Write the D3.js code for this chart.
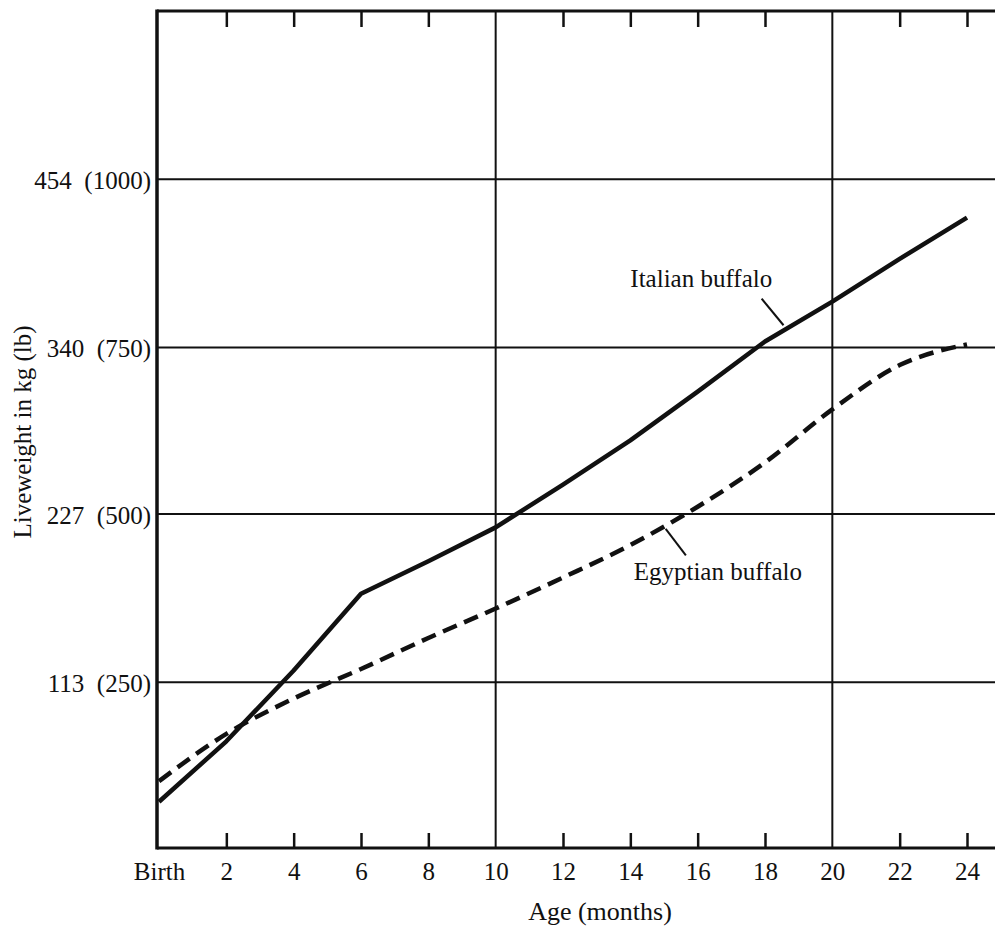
<!DOCTYPE html>
<html>
<head>
<meta charset="utf-8">
<script src="https://cdn.jsdelivr.net/npm/d3@7"></script>
<style>
  html, body { margin: 0; padding: 0; background: #fff; }
  svg { display: block; }
  text { font-family: "Liberation Serif", "Times New Roman", serif; fill: #111; }
</style>
</head>
<body>
<svg id="chart" width="995" height="932"></svg>
<script>
// ---- data ----
const months = [0, 2, 4, 6, 8, 10, 12, 14, 16, 18, 20, 22, 24];
const italianKg = [32, 73, 121, 173, 195, 218, 247, 277, 310, 344, 371, 400, 428];
const egyptianKg = [46, 78, 102, 122, 143, 163, 184, 206, 232, 262, 298, 328, 342];
const xTickValues = [0, 2, 4, 6, 8, 10, 12, 14, 16, 18, 20, 22, 24];
const xTickLabels = ["Birth", "2", "4", "6", "8", "10", "12", "14", "16", "18", "20", "22", "24"];
const xGridValues = [10, 20];
const yTickKg = [113, 227, 340, 454];
const yTickLb = [250, 500, 750, 1000];
const seriesNames = ["Italian buffalo", "Egyptian buffalo"];
// annotation anchors in data units: [labelMonth, labelKg, leaderFromMonth, leaderFromKg, leaderToMonth, leaderToKg]
const italianNote = [14.0, 381, 17.9, 373, 18.55, 355];
const egyptianNote = [14.1, 182, 15.05, 217, 15.65, 199];

(function () {
  // ---- layout ----
  const svg = d3.select("#chart");
  const pL = 157, pR = 995, pT = 11, pB = 848;

  const x = d3.scaleLinear().domain([0, 24]).range([159, 967]);
  const y = d3.scaleLinear().domain([0, 568]).range([849, 11]);

  const fs = 25;

  // horizontal grid lines
  svg.append("g").selectAll("line").data(yTickKg).join("line")
    .attr("x1", pL).attr("x2", pR)
    .attr("y1", d => y(d)).attr("y2", d => y(d))
    .attr("stroke", "#111").attr("stroke-width", 2);

  // vertical grid lines
  svg.append("g").selectAll("line").data(xGridValues).join("line")
    .attr("x1", d => x(d)).attr("x2", d => x(d))
    .attr("y1", pT).attr("y2", pB)
    .attr("stroke", "#111").attr("stroke-width", 2);

  // bottom axis (ticks pointing up)
  const xAxisB = d3.axisBottom(x)
    .tickValues(xTickValues)
    .tickFormat((d, i) => xTickLabels[i])
    .tickSize(-15).tickSizeOuter(0).tickPadding(14);
  const gB = svg.append("g").attr("transform", `translate(0,${pB})`).call(xAxisB);
  gB.select(".domain").remove();
  gB.selectAll(".tick line").attr("stroke", "#111").attr("stroke-width", 2.5)
    .filter(d => d === 0 || xGridValues.includes(d)).remove();
  gB.selectAll(".tick text").attr("font-size", fs).attr("font-family", "Liberation Serif")
    .attr("fill", "#111").attr("dy", "0.71em");

  // top axis (ticks pointing down)
  const xAxisT = d3.axisTop(x)
    .tickValues(xTickValues.filter(d => d !== 0 && !xGridValues.includes(d)))
    .tickFormat("").tickSize(-16).tickSizeOuter(0);
  const gT = svg.append("g").attr("transform", `translate(0,${pT})`).call(xAxisT);
  gT.select(".domain").remove();
  gT.selectAll(".tick line").attr("stroke", "#111").attr("stroke-width", 2.5);

  // left axis labels
  const yAxis = d3.axisLeft(y)
    .tickValues(yTickKg)
    .tickFormat((d, i) => `${d}  (${yTickLb[i]})`)
    .tickSize(0).tickPadding(6);
  const gL = svg.append("g").attr("transform", `translate(${pL},0)`).call(yAxis);
  gL.select(".domain").remove();
  gL.selectAll(".tick text").attr("font-size", fs).attr("font-family", "Liberation Serif")
    .attr("fill", "#111").attr("dy", "0.36em").style("white-space", "pre");

  // frame lines: left axis, bottom axis, top border
  svg.append("line").attr("x1", pL).attr("x2", pL).attr("y1", pT - 1.5).attr("y2", pB + 1.5)
    .attr("stroke", "#111").attr("stroke-width", 3.5);
  svg.append("line").attr("x1", pL).attr("x2", pR).attr("y1", pB).attr("y2", pB)
    .attr("stroke", "#111").attr("stroke-width", 3);
  svg.append("line").attr("x1", pL).attr("x2", pR).attr("y1", pT).attr("y2", pT)
    .attr("stroke", "#111").attr("stroke-width", 3);

  // series
  const italian = months.map((m, i) => [m, italianKg[i]]);
  const egyptian = months.map((m, i) => [m, egyptianKg[i]]);

  const lineLin = d3.line().x(d => x(d[0])).y(d => y(d[1]));
  const lineSmooth = d3.line().x(d => x(d[0])).y(d => y(d[1])).curve(d3.curveMonotoneX);

  svg.append("path").datum(egyptian)
    .attr("d", lineSmooth).attr("fill", "none").attr("stroke", "#111")
    .attr("stroke-width", 4.5).attr("stroke-dasharray", "15 8");

  svg.append("path").datum(italian)
    .attr("d", lineLin).attr("fill", "none").attr("stroke", "#111")
    .attr("stroke-width", 4.5).attr("stroke-linejoin", "round");

  // annotations
  function note(arr, label) {
    svg.append("text").attr("x", x(arr[0])).attr("y", y(arr[1]))
      .attr("font-size", fs).attr("font-family", "Liberation Serif").text(label);
    svg.append("line")
      .attr("x1", x(arr[2])).attr("y1", y(arr[3]))
      .attr("x2", x(arr[4])).attr("y2", y(arr[5]))
      .attr("stroke", "#111").attr("stroke-width", 2);
  }
  note(italianNote, seriesNames[0]);
  note(egyptianNote, seriesNames[1]);

  // axis titles
  svg.append("text").attr("x", 600).attr("y", 920).attr("text-anchor", "middle")
    .attr("font-size", fs + 1).text("Age (months)");
  svg.append("text").attr("transform", "translate(31,432) rotate(-90)")
    .attr("text-anchor", "middle").attr("font-size", fs).text("Liveweight in kg (lb)");
})();
</script>
</body>
</html>
